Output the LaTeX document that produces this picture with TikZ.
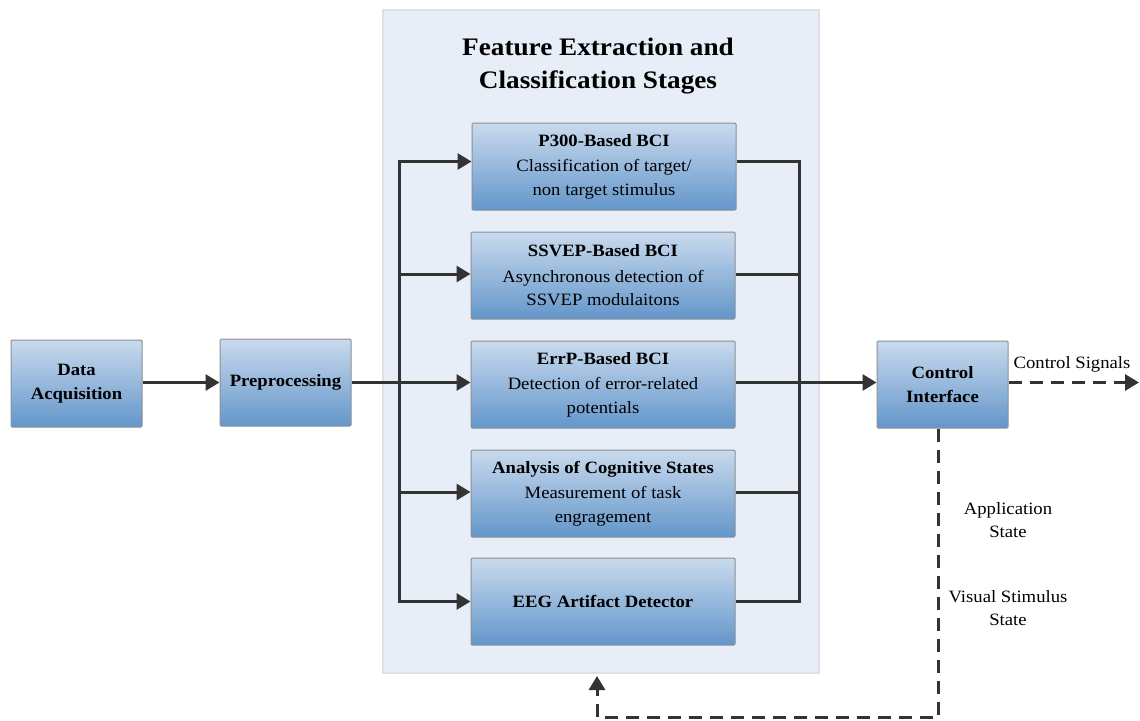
\documentclass[tikz,border=0pt]{standalone}
\usepackage{fontspec}
\setmainfont[FakeStretch=1.08]{Liberation Serif}
\usetikzlibrary{arrows.meta}
\definecolor{panelfill}{HTML}{E8EEF7}
\definecolor{panelline}{HTML}{DDE0E4}
\definecolor{boxtop}{HTML}{C9DAED}
\definecolor{boxbot}{HTML}{6396CA}
\definecolor{boxline}{HTML}{8C9095}
\definecolor{wire}{HTML}{333333}
\begin{document}
\begin{tikzpicture}[x=1pt,y=-1pt,
  panelbox/.style={draw=panelline, line width=2.5pt, fill=panelfill, minimum width=436pt, minimum height=663pt, inner sep=0pt},
  blockbase/.style={draw=boxline, line width=1pt, top color=boxtop, bottom color=boxbot, rounded corners=1.2pt,
    minimum height=87pt, inner sep=0pt, align=center, font=\fontsize{17.3}{23.5}\selectfont},
  smallblock/.style={blockbase, minimum width=131pt},
  stagebox/.style={blockbase, minimum width=264pt},
  flow/.style={draw=wire, line width=3pt, -{Triangle[length=14pt,width=16pt]}},
  wireline/.style={draw=wire, line width=3pt},
  dashflow/.style={draw=wire, line width=3pt, dash pattern=on 13pt off 8pt},
  lbl/.style={align=center, font=\fontsize{17.3}{22.5}\selectfont, inner sep=0pt}]
\useasboundingbox (0,0) rectangle (1140,720);

% background panel grouping the parallel stages
\node[panelbox] (panel) at (601,341.5) {};
\node[align=center, font=\fontsize{25.2}{33.5}\selectfont\bfseries] (title) at (598,66)
  {Feature Extraction and\\Classification Stages};

% main processing chain
\node[smallblock] (acq) at (76.5,383.5) {\textbf{Data}\\\textbf{Acquisition}};
\node[smallblock] (pre) at (285.5,382.5) {\textbf{Preprocessing}};

% parallel stages
\node[stagebox] (p300) at (604,166.5) {\textbf{P300-Based BCI}\\[2pt]Classification of target/\\non target stimulus};
\node[stagebox] (ssvep) at (603,275.5) {\textbf{SSVEP-Based BCI}\\[2pt]Asynchronous detection of\\SSVEP modulaitons};
\node[stagebox] (errp) at (603,384.5) {\textbf{ErrP-Based BCI}\\[2pt]Detection of error-related\\potentials};
\node[stagebox] (cog) at (603,493.5) {\textbf{Analysis of Cognitive States}\\[2pt]Measurement of task\\engragement};
\node[stagebox] (eeg) at (603,601.5) {\textbf{EEG Artifact Detector}};

\node[smallblock] (ctrl) at (942.5,384.5) {\textbf{Control}\\\textbf{Interface}};

% distribution and merging buses
\coordinate (split) at (399,382.5);
\coordinate (merge) at (799,382.5);

\draw[flow] (acq.east |- pre.east) -- (pre.west);
\draw[flow] (pre.east) -- (errp.west |- pre.east);
\draw[flow] (split) |- ([yshift=5pt]p300.west);
\draw[flow] (split) |- ([yshift=1.5pt]ssvep.west);
\draw[flow] (split) |- ([yshift=1.5pt]cog.west);
\draw[flow] (split) |- (eeg.west);
\draw[wireline] ([yshift=5pt]p300.east) -| (merge);
\draw[wireline] ([yshift=1.5pt]ssvep.east) -| (merge);
\draw[wireline] ([yshift=1.5pt]cog.east) -| (merge);
\draw[wireline] (eeg.east) -| (merge);
\draw[flow] (errp.east |- merge) -- (ctrl.west |- merge);

% outputs of the control interface
\coordinate (sigout) at (1139,382.5);
\draw[dashflow, -{Triangle[length=14pt,width=16pt]}] (ctrl.east |- sigout) -- (sigout);
\node[lbl, anchor=south] (sigtxt) at (1072,372) {Control Signals};

\coordinate (fbdown) at (938,717);
\coordinate (fbleft) at (597,717);
\coordinate (fbtip) at (597,676);
\draw[dashflow, -{Triangle[length=14pt,width=16pt]}] (ctrl.south -| fbdown) -- (fbdown) -- (fbleft) -- (fbtip);

\node[lbl] (appstate) at (1008,520) {Application\\State};
\node[lbl] (visstate) at (1008,608) {Visual Stimulus\\State};
\end{tikzpicture}
\end{document}
